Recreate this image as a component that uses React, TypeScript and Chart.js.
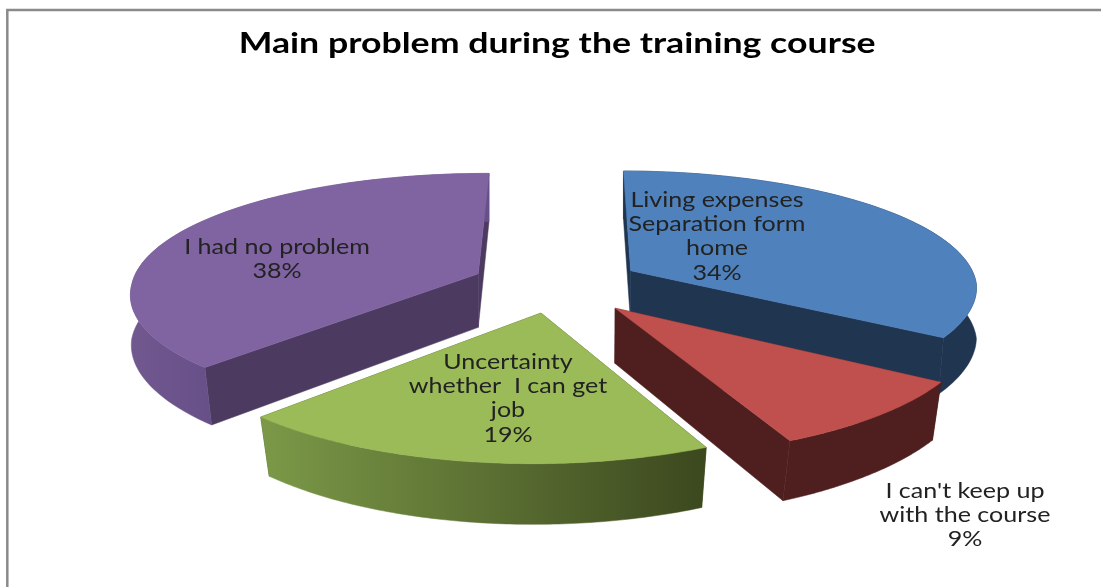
import React, { useEffect, useRef } from "react";
import { Chart, registerables } from "chart.js";

Chart.register(...registerables);

const titleText = "Main problem during the training course";
const categories = ["Living expenses Separation form home", "I can't keep up with the course", "Uncertainty whether  I can get job", "I had no problem"];
const values = [34, 9, 19, 38];
const labelLines = [
  ["Living expenses", "Separation form", "home"],
  ["I can't keep up", "with the course"],
  ["Uncertainty", "whether  I can get", "job"],
  ["I had no problem"],
];
const topColors = ["#4f81bd", "#c0504d", "#9bbb59", "#8064a2"];
const wallColors = ["#1f3550", "#4f1f1f", "#45531f", "#4c3a60"];
const sliceOffsets = [57, 59, 54, 56];
const labelAnchors = [[717, 200], [965, 491], [508, 362], [277, 247]];

const CX = 556, CY = 284.5, RX = 347, RY = 118.5, KX = 0.135, KY = 0.15, H = 54, SKEW = 6;
const TITLE_CENTER = 556.5, TITLE_WIDTH = 637, TITLE_FONT = "bold 28px Lato";

function project(u: number, v: number, z: number) {
  const x0 = RX * u / (1 - KX * v) - SKEW * Math.max(v, 0);
  const y0 = RY * v / (1 - KY * v);
  const narrow = 1 - 0.03 * Math.min(Math.max(v, 0), 1) * z;
  return [CX + x0 * narrow, CY + y0 + z * H * (1 + 0.1 * v)];
}

function outerGradient(ctx: CanvasRenderingContext2D, i: number) {
  if (i === 2) {
    const g = ctx.createLinearGradient(256, 0, 704, 0);
    g.addColorStop(0, "#7c9a48");
    g.addColorStop(1, "#3c481e");
    return g;
  }
  if (i === 3) {
    const g = ctx.createLinearGradient(131, 0, 209, 0);
    g.addColorStop(0, "#71588f");
    g.addColorStop(1, "#674f88");
    return g;
  }
  return wallColors[i];
}

const pie3d = {
  id: "pie3d",
  beforeDraw(chart: any) {
    const { ctx } = chart;
    ctx.save();
    ctx.fillStyle = "#fff";
    ctx.fillRect(0, 0, chart.width, chart.height);
    ctx.strokeStyle = "#8a8a8a";
    ctx.lineWidth = 2.5;
    ctx.beginPath();
    ctx.moveTo(7.3, chart.height);
    ctx.lineTo(7.3, 10);
    ctx.lineTo(chart.width, 10);
    ctx.stroke();
    ctx.restore();
    // the reference's title is stretched sideways: widen the library's title while it is drawn
    ctx.save();
    ctx.font = TITLE_FONT;
    const sx = TITLE_WIDTH / ctx.measureText(titleText).width;
    ctx.restore();
    ctx.save();
    ctx.translate(TITLE_CENTER, 0);
    ctx.scale(sx, 1);
    ctx.translate(-TITLE_CENTER, 0);
  },
  beforeDatasetsDraw(chart: any) {
    const { ctx } = chart;
    ctx.restore();
    const arcs = chart.getDatasetMeta(0).data;
    const order = [3, 0, 1, 2];
    ctx.save();
    ctx.lineJoin = "round";
    for (const i of order) {
      const arc = arcs[i];
      const d = arc.options.offset / arc.outerRadius;
      const a0 = arc.startAngle, a1 = arc.endAngle;
      const mid = (a0 + a1) / 2;
      const ou = d * Math.cos(mid), ov = d * Math.sin(mid);
      const at = (a: number, z: number, r = 1) => project(ou + r * Math.cos(a), ov + r * Math.sin(a), z);
      const poly = (p: number[][], color: any) => {
        ctx.fillStyle = color;
        ctx.strokeStyle = color;
        ctx.lineWidth = 0.5;
        ctx.beginPath();
        p.forEach((q, k) => (k ? ctx.lineTo(q[0], q[1]) : ctx.moveTo(q[0], q[1])));
        ctx.closePath();
        ctx.fill();
        ctx.stroke();
      };
      const N = 90;
      const c0 = at(0, 0, 0), c1 = at(0, 1, 0);
      const radial = [a0, a1]
        .map((a) => ({ a, y: at(a, 0)[1] }))
        .sort((x, y) => x.y - y.y);
      for (const r of radial) poly([c0, at(r.a, 0), at(r.a, 1), c1], wallColors[i]);
      const arcPts = (z: number) => {
        const out: number[][] = [];
        for (let k = 0; k <= N; k++) out.push(at(a0 + (a1 - a0) * k / N, z));
        return out;
      };
      poly([...arcPts(0), ...arcPts(1).reverse()], outerGradient(ctx, i));
      poly([c0, ...arcPts(0)], topColors[i]);
    }
    ctx.restore();
    return false;
  },
  afterDraw(chart: any) {
    const { ctx } = chart;
    ctx.save();
    ctx.fillStyle = "#222";
    ctx.font = "22px Lato";
    ctx.textAlign = "center";
    ctx.textBaseline = "middle";
    labelLines.forEach((lines, i) => {
      const all = [...lines, `${values[i]}%`];
      all.forEach((t, k) => {
        ctx.save();
        ctx.translate(labelAnchors[i][0], labelAnchors[i][1] + k * 24.2);
        ctx.scale(1.14, 1);
        ctx.fillText(t, 0, 0);
        ctx.restore();
      });
    });
    ctx.restore();
  },
};

export default function App() {
  const ref = useRef<HTMLCanvasElement>(null);
  useEffect(() => {
    document.body.style.margin = "0";
    const chart = new Chart(ref.current!, {
      type: "pie",
      data: { labels: categories, datasets: [{ data: values, backgroundColor: topColors, offset: sliceOffsets, borderWidth: 0 }] },
      options: {
        responsive: false,
        animation: false,
        rotation: 0.3,
        layout: { padding: { left: 13 } },
        plugins: {
          legend: { display: false },
          tooltip: { enabled: false },
          title: {
            display: true,
            text: titleText,
            color: "#000",
            font: { family: "Lato", size: 28, weight: "bold" },
            padding: { top: 27, bottom: 9 },
          },
        },
      },
      plugins: [pie3d],
    } as any);
    return () => chart.destroy();
  }, []);
  return <canvas ref={ref} width={1101} height={587} style={{ display: "block" }} />;
}
